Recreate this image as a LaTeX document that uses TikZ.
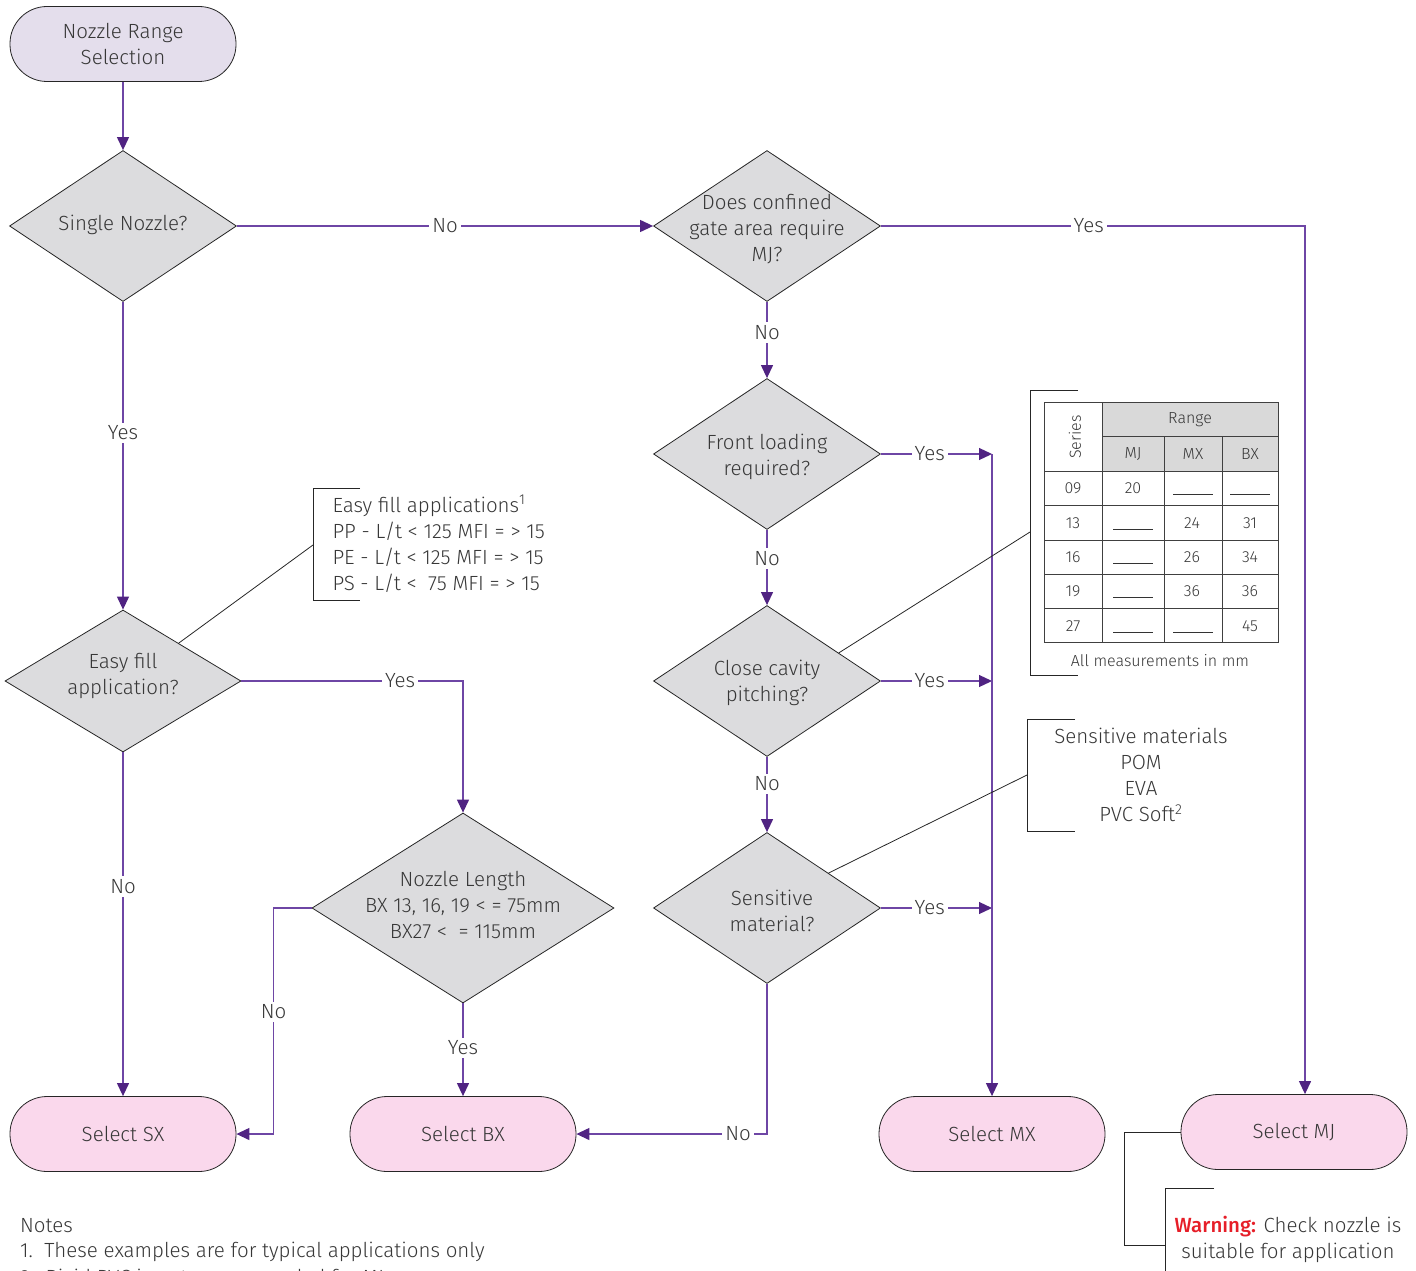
\documentclass[tikz,border=0pt]{standalone}
\usepackage{fontspec}
\setmainfont{Fira Sans}[UprightFont=* Light, BoldFont=* Medium]
\usetikzlibrary{arrows.meta,shapes.geometric,calc}
\definecolor{txt}{RGB}{55,55,55}
\definecolor{flow}{RGB}{110,70,165}
\definecolor{arr}{RGB}{80,35,130}
\definecolor{dfill}{RGB}{220,220,222}
\definecolor{startfill}{RGB}{228,222,236}
\definecolor{endfill}{RGB}{250,216,236}
\definecolor{hdr}{RGB}{217,217,217}
\definecolor{warn}{RGB}{230,30,40}
\begin{document}
\begin{tikzpicture}[x=1pt,y=-1pt,
  every node/.style={text=txt, font=\fontsize{20.5}{26}\selectfont},
  term/.style={draw=black!85, line width=0.8pt, rectangle, rounded corners=37pt, minimum width=226pt, minimum height=75pt, inner sep=0pt, align=center},
  startbox/.style={term, fill=startfill},
  endbox/.style={term, fill=endfill},
  decision/.style={draw=black!85, line width=0.8pt, diamond, fill=dfill, inner sep=0pt, minimum width=227pt, minimum height=151pt},
  dtext/.style={align=center},
  flowline/.style={draw=flow, line width=1.2pt},
  flowarrow/.style={flowline, -{Triangle[length=13pt,width=12pt,fill=arr,color=arr]}},
  lab/.style={fill=white, inner sep=3pt},
  bracket/.style={draw=black!85, line width=0.8pt},
  small/.style={font=\fontsize{16}{19}\selectfont},
  tline/.style={draw=black!75, line width=0.8pt},
]
\useasboundingbox (0,0) rectangle (1416,1271);

% terminals
\node[startbox] (start) at (123,44) {Nozzle Range\\Selection};
\node[endbox] (sx) at (123,1134) {Select SX};
\node[endbox] (bx) at (463,1134) {Select BX};
\node[endbox] (mx) at (992,1134) {Select MX};
\node[endbox] (mj) at (1294,1132) {Select MJ};

% decisions
\node[decision] (d1) at (123,226) {};
\node[dtext] (t1) at (123,225) {Single Nozzle?};
\node[decision] (d2) at (767,226) {};
\node[dtext] (t2) at (767,229) {Does confined\\gate area require\\MJ?};
\node[decision] (d3) at (767,454) {};
\node[dtext] (t3) at (767,457) {Front loading\\required?};
\node[decision] (d4) at (767,681) {};
\node[dtext] (t4) at (767,683) {Close cavity\\pitching?};
\node[decision] (d5) at (767,908) {};
\node[dtext] (t5) at (772,911) {Sensitive\\material?};
\node[decision, minimum width=236pt, minimum height=142pt] (d6) at (123,681) {};
\node[dtext] (t6) at (123,676) {Easy fill\\application?};
\node[decision, minimum width=302pt, minimum height=190pt] (d7) at (463,908) {};
\node[dtext] (t7) at (463,905) {Nozzle Length\\BX 13, 16, 19 < = 75mm\\BX27 <\ \ = 115mm};

% connectors
\draw[flowarrow] (start.south) -- (d1.north);
\draw[flowarrow] (d1.east) -- node[lab] (l1) {No} (d2.west);
\draw[flowarrow] (d2.east) -| node[lab, pos=0.245] (l2) {Yes} ([xshift=11pt]mj.north);
\draw[flowarrow] (d2.south) -- node[lab, pos=0.4] (l3) {No} (d3.north);
\draw[flowarrow] (d3.south) -- node[lab, pos=0.38] (l4) {No} (d4.north);
\draw[flowarrow] (d4.south) -- node[lab, pos=0.36] (l5) {No} (d5.north);
\draw[flowarrow] (d3.east) -- node[lab, pos=0.44] (l6) {Yes} (d3.east -| mx.north);
\draw[flowarrow] (d4.east) -- node[lab, pos=0.44] (l7) {Yes} (d4.east -| mx.north);
\draw[flowarrow] (d5.east) -- node[lab, pos=0.44] (l8) {Yes} (d5.east -| mx.north);
\draw[flowarrow] (d3.east -| mx.north) -- (mx.north);
\draw[flowarrow] (d5.south) |- node[lab, pos=0.576] (l9) {No} (bx.east);
\draw[flowarrow] (d1.south) -- node[lab, pos=0.425] (l10) {Yes} (d6.north);
\draw[flowarrow] (d6.south) -- node[lab, pos=0.39] (l11) {No} (sx.north);
\draw[flowarrow] (d6.east) -| node[lab, pos=0.358] (l12) {Yes} (d7.north);
\draw[flowarrow] (d7.west) -- ++(-38,0) |- node[lab, pos=0.23] (l13) {No} (sx.east);
\draw[flowarrow] (d7.south) -- node[lab, pos=0.48] (l14) {Yes} (bx.north);

% easy fill note
\coordinate (efb) at (313,545);
\draw[bracket] (360,488) -- (313,488) -- (313,600) -- (360,600);
\draw[bracket] ($(d6.north)!0.47!(d6.east)$) -- (efb);
\node[anchor=west, align=left] (ef) at (329,544) {Easy fill applications\textsuperscript{1}\\PP - L/t < 125 MFI = > 15\\PE - L/t < 125 MFI = > 15\\PS - L/t <\ \ 75 MFI = > 15};

% table note
\coordinate (tbb) at (1030,532);
\draw[bracket] (1078,390) -- (1030,390) -- (1030,675) -- (1078,675);
\draw[bracket] ($(d4.north)!0.63!(d4.east)$) -- (tbb);
\fill[hdr] (1102,402) rectangle (1278,471);
\draw[tline] (1102,436) -- (1278,436);
\foreach \yy in {471,505,540,574,608} \draw[tline] (1044,\yy) -- (1278,\yy);
\draw[tline] (1102,402) -- (1102,642);
\foreach \xx in {1164,1222} \draw[tline] (\xx,436) -- (\xx,642);
\draw[tline] (1044,402) rectangle (1278,642);
\node[small] (trange) at (1190,420) {Range};
\node[small] (tmj) at (1133,454) {MJ};
\node[small] (tmx) at (1193,454) {MX};
\node[small] (tbx) at (1250,454) {BX};
\node[small, rotate=90] (tser) at (1075,437) {Series};
\node[small] (r1) at (1073,488) {09};
\node[small] (r2) at (1073,523) {13};
\node[small] (r3) at (1073,557) {16};
\node[small] (r4) at (1073,591) {19};
\node[small] (r5) at (1073,626) {27};
\node[small] (v1) at (1133,488) {20};
\node[small] (v2) at (1192,523) {24};
\node[small] (v3) at (1192,557) {26};
\node[small] (v4) at (1192,591) {36};
\node[small] (v5) at (1250,523) {31};
\node[small] (v6) at (1250,557) {34};
\node[small] (v7) at (1250,591) {36};
\node[small] (v8) at (1250,626) {45};
\foreach \xa/\yb in {1173/494, 1230/494, 1113/529, 1113/563, 1113/597, 1113/632, 1173/632}
  \draw[black!80, line width=0.8pt] (\xa,\yb) -- ++(40,0);
\node[small] (tnote) at (1160,661) {All measurements in mm};

% sensitive note
\coordinate (snb) at (1027,775);
\draw[bracket] (1075,719) -- (1027,719) -- (1027,831) -- (1075,831);
\draw[bracket] ($(d5.north)!0.54!(d5.east)$) -- (snb);
\node[align=center] (sn) at (1141,775) {Sensitive materials\\POM\\EVA\\PVC Soft\textsuperscript{2}};

% warning
\draw[bracket] (mj.west) -- (1124,1132) -- (1124,1245) -- (1165,1245);
\draw[bracket] (1214,1188) -- (1165,1188) -- (1165,1290);
\node[align=center] (warnt) at (1288,1239) {\textbf{\color{warn}Warning:} Check nozzle is\\suitable for application};

% notes
\node[anchor=west, inner sep=0pt] (notes) at (20,1226) {Notes};
\node[anchor=west, inner sep=0pt] (note1) at (20,1252) {1.\ \ These examples are for typical applications only};
\node[anchor=west, inner sep=0pt] (note2) at (20,1279) {2.\ \ Rigid PVC is not recommended for MJ};
\end{tikzpicture}
\end{document}
